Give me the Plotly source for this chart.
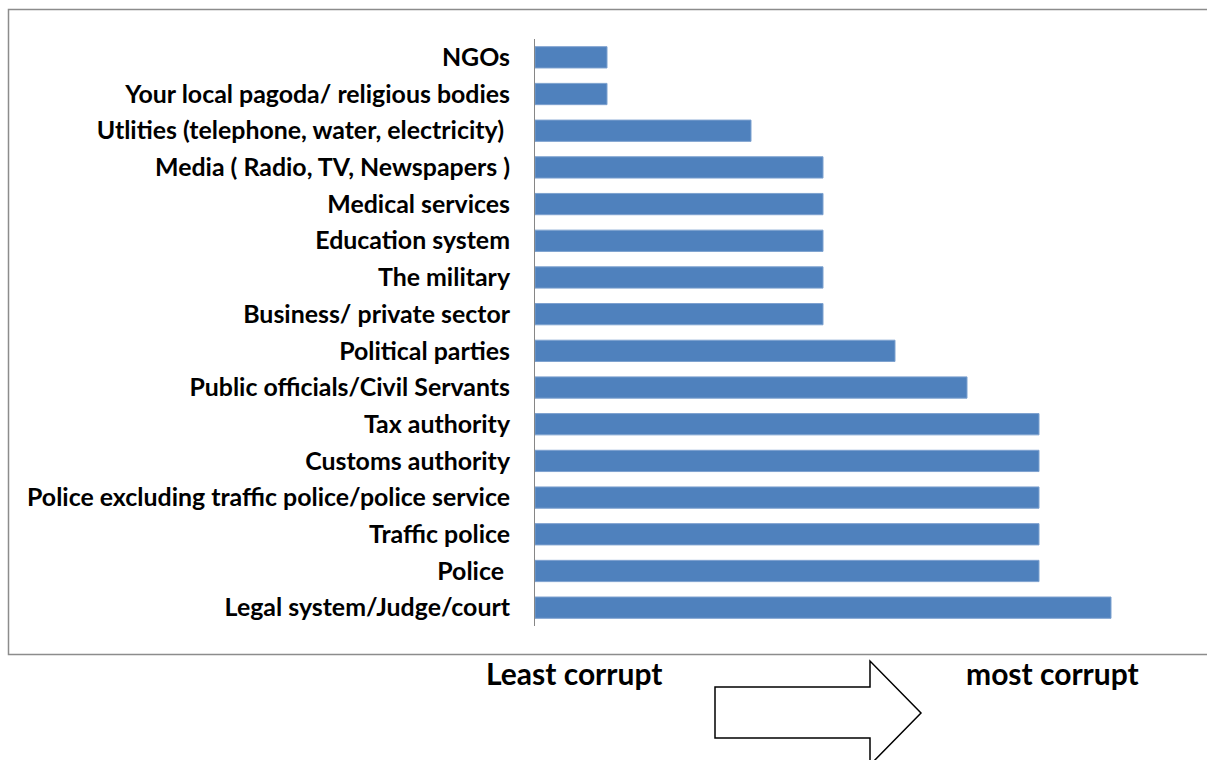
import plotly.graph_objects as go

categories = [
    "NGOs",
    "Your local pagoda/ religious bodies",
    "Utlities (telephone, water, electricity) ",
    "Media ( Radio, TV, Newspapers )",
    "Medical services",
    "Education system",
    "The military",
    "Business/ private sector",
    "Political parties",
    "Public officials/Civil Servants",
    "Tax authority",
    "Customs authority",
    "Police excluding traffic police/police service",
    "Traffic police",
    "Police ",
    "Legal system/Judge/court",
]
values = [1, 1, 3, 4, 4, 4, 4, 4, 5, 6, 7, 7, 7, 7, 7, 8]

W, H = 1207, 760
L, T = 535, 39
PW, PH = 648, 587
R = W - L - PW
B = H - T - PH

FONT = "Lato"

def px(x):
    return (x - L) / PW

def py(y):
    return 1 - (y - T) / PH

fig = go.Figure(go.Bar(
    y=categories, x=values, orientation="h",
    marker=dict(color="#4F81BD", line=dict(color="#7DA1CF", width=1)),
    width=0.58,
))

fig.update_layout(
    width=W, height=H,
    margin=dict(l=L, r=R, t=T, b=B, pad=0),
    paper_bgcolor="white", plot_bgcolor="white",
    showlegend=False,
    bargap=0.42,
    xaxis=dict(range=[0, 9], visible=False, fixedrange=True),
    yaxis=dict(
        autorange="reversed",
        showline=True, linecolor="#868686", linewidth=1,
        showgrid=False, ticks="", ticklabelstandoff=19,
        tickfont=dict(family=FONT, size=24.9, color="black", weight="bold"),
    ),
)

# outer border
fig.add_shape(type="rect", xref="paper", yref="paper",
              x0=px(8.5), x1=px(1212), y0=py(9.5), y1=py(654.5),
              line=dict(color="#8C8C8C", width=1.5), layer="below")

# arrow
pts = [(715, 687), (870, 687), (870, 661), (921, 713), (870, 765), (870, 738), (715, 738)]
path = "M " + " L ".join(f"{px(x):.5f},{py(y):.5f}" for x, y in pts) + " Z"
fig.add_shape(type="path", xref="paper", yref="paper", path=path,
              line=dict(color="black", width=1.5), fillcolor="white")

for text, cx in [("Least corrupt", 574), ("most corrupt", 1052)]:
    fig.add_annotation(text=f"<b>{text}</b>", xref="paper", yref="paper",
                       x=px(cx), y=py(673), xanchor="center", yanchor="middle",
                       showarrow=False,
                       font=dict(family=FONT, size=30, color="black"))

fig.write_html("out.html")
